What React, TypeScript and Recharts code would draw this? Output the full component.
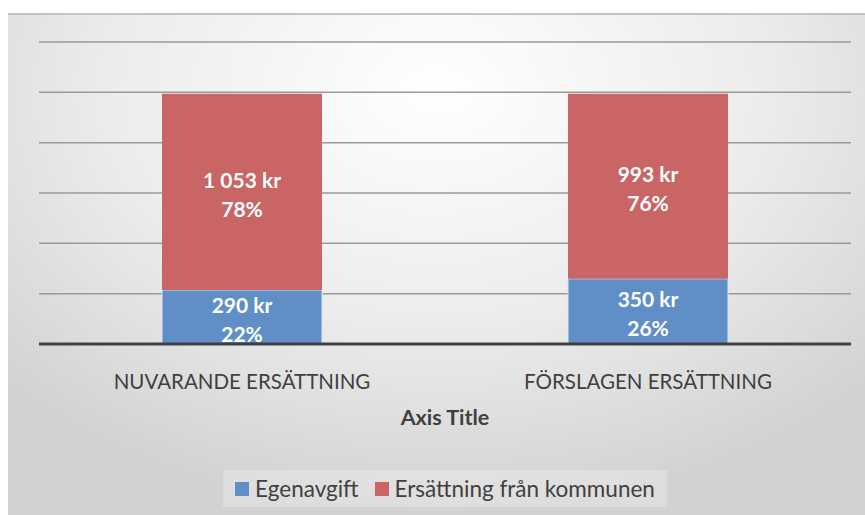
import { BarChart, Bar, XAxis, YAxis, CartesianGrid, Legend, LabelList } from 'recharts';

const categories = ['NUVARANDE ERSÄTTNING', 'FÖRSLAGEN ERSÄTTNING'];
const egenavgift = [290, 350];
const ersattning = [1053, 993];
const egenavgiftPct = ['22%', '26%'];
const ersattningPct = ['78%', '76%'];
const yTicks = [0, 270, 540, 810, 1080, 1350, 1620];

const BLUE = '#5f8fc6';
const RED = '#c96565';
const FONT = 'Lato, "Open Sans", sans-serif';

const data = categories.map((name, i) => ({
  name,
  egen: egenavgift[i],
  ers: ersattning[i],
}));

const kr = (v: number) => v.toLocaleString('sv-SE').replace(/\s/g, ' ') + ' kr';

const makeLabel = (values: number[], pcts: string[]) => (props: any) => {
  const { x, y, width, height, index } = props;
  const cx = x + width / 2;
  const cy = y + height / 2;
  return (
    <text textAnchor="middle" fill="#fff" fontWeight="bold" fontSize={21} fontFamily={FONT}>
      <tspan x={cx} y={cy - 4}>{kr(values[index])}</tspan>
      <tspan x={cx} y={cy + 25}>{pcts[index]}</tspan>
    </text>
  );
};

const CategoryTick = ({ x, y, payload }: any) => (
  <text x={x} y={y + 37} textAnchor="middle" fill="#404040" fontSize={20.5} fontFamily={FONT}>
    {payload.value}
  </text>
);

const AxisTitle = ({ viewBox }: any) => (
  <text
    x={viewBox.x + viewBox.width / 2}
    y={viewBox.y + 81}
    textAnchor="middle"
    fill="#404040"
    fontSize={21.5}
    fontWeight="bold"
    fontFamily={FONT}
  >
    Axis Title
  </text>
);

const LegendBox = () => (
  <div style={{ display: 'flex', justifyContent: 'center' }}>
    <div
      style={{
        display: 'flex',
        alignItems: 'center',
        gap: 16,
        padding: '5px 12px',
        background: 'rgba(255,255,255,0.25)',
        fontFamily: FONT,
        fontSize: 22.5,
        color: '#404040',
      }}
    >
      {[
        { label: 'Egenavgift', color: BLUE },
        { label: 'Ersättning från kommunen', color: RED },
      ].map((it) => (
        <span key={it.label} style={{ display: 'flex', alignItems: 'center', gap: 6 }}>
          <span style={{ width: 14, height: 14, background: it.color, display: 'inline-block' }} />
          {it.label}
        </span>
      ))}
    </div>
  </div>
);

export default function App() {
  return (
    <div
      style={{
        position: 'absolute',
        left: 8,
        top: 13,
        width: 857,
        height: 502,
        borderTop: '2px solid #c4c4c4',
        boxSizing: 'border-box',
        background: 'radial-gradient(ellipse 70% 85% at 50% 15%, #ffffff 0%, #ececec 55%, #d2d2d2 100%)',
      }}
    >
      <BarChart
        width={857}
        height={500}
        data={data}
        margin={{ top: 27, right: 14, left: 31, bottom: 0 }}
        barSize={160}
      >
        <CartesianGrid vertical={false} stroke="#9a9a9a" strokeWidth={1.5} />
        <YAxis hide domain={[0, 1620]} ticks={yTicks} />
        <XAxis
          dataKey="name"
          axisLine={{ stroke: '#404040', strokeWidth: 3 }}
          tickLine={false}
          height={126}
          tick={<CategoryTick />}
          label={<AxisTitle />}
        />
        <Legend verticalAlign="bottom" height={45} content={<LegendBox />} />
        <Bar dataKey="egen" stackId="a" fill={BLUE} stroke="#dfe7f2" strokeWidth={1} isAnimationActive={false}>
          <LabelList dataKey="egen" content={makeLabel(egenavgift, egenavgiftPct)} />
        </Bar>
        <Bar dataKey="ers" stackId="a" fill={RED} isAnimationActive={false}>
          <LabelList dataKey="ers" content={makeLabel(ersattning, ersattningPct)} />
        </Bar>
      </BarChart>
    </div>
  );
}
